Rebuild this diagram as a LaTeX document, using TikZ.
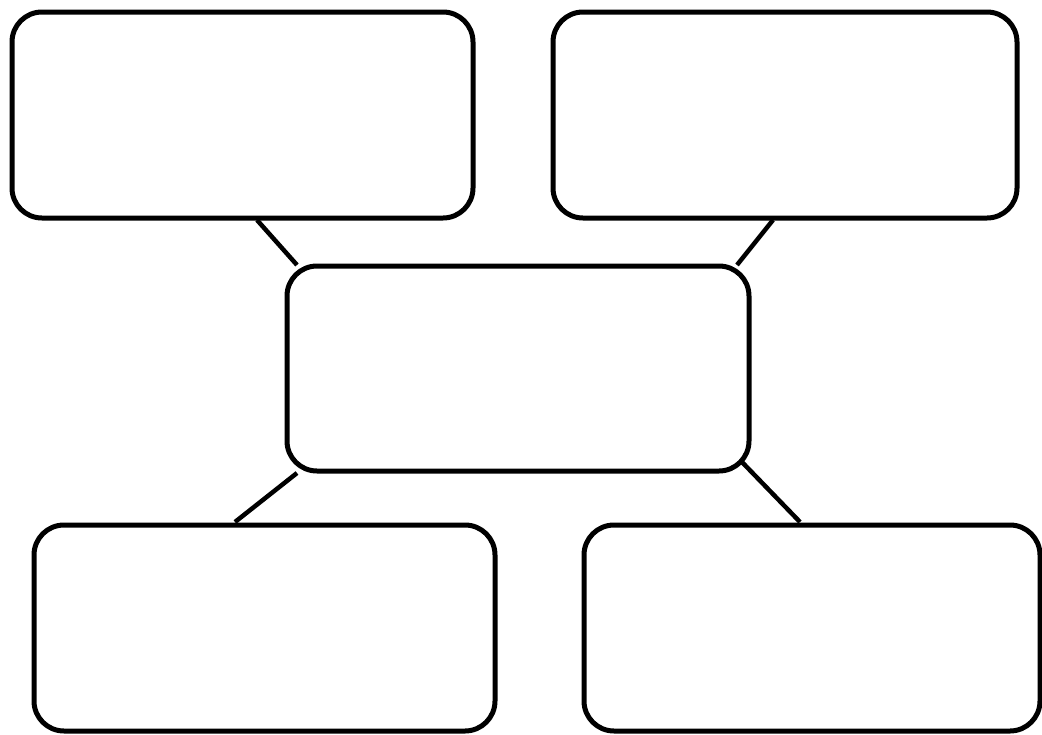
\documentclass[tikz,border=0pt]{standalone}
\begin{document}
\begin{tikzpicture}[x=1pt,y=1pt,
  box/.style={draw=black, line width=5pt, rounded corners=30pt, outer sep=0pt, inner sep=0pt, fill=white},
  link/.style={draw=black, line width=4.5pt}]
\useasboundingbox (0,0) rectangle (1042,-734);
\node[box, minimum width=461pt, minimum height=206pt] (tl) at (242.5,-115) {};
\node[box, minimum width=464pt, minimum height=206pt] (tr) at (785,-115) {};
\node[box, minimum width=462pt, minimum height=205pt] (c) at (518,-368.5) {};
\node[box, minimum width=461pt, minimum height=206pt] (bl) at (264.5,-628) {};
\node[box, minimum width=456pt, minimum height=206pt] (br) at (812,-628) {};
\draw[link] ([shift={(245pt,-2pt)}]tl.south west) -- ([shift={(10pt,1pt)}]c.north west);
\draw[link] ([shift={(220pt,-2pt)}]tr.south west) -- ([shift={(-12pt,1pt)}]c.north east);
\draw[link] ([shift={(10pt,-2pt)}]c.south west) -- ([shift={(201pt,3pt)}]bl.north west);
\draw[link] ([shift={(-9pt,11pt)}]c.south east) -- ([shift={(216pt,3pt)}]br.north west);
\end{tikzpicture}
\end{document}
